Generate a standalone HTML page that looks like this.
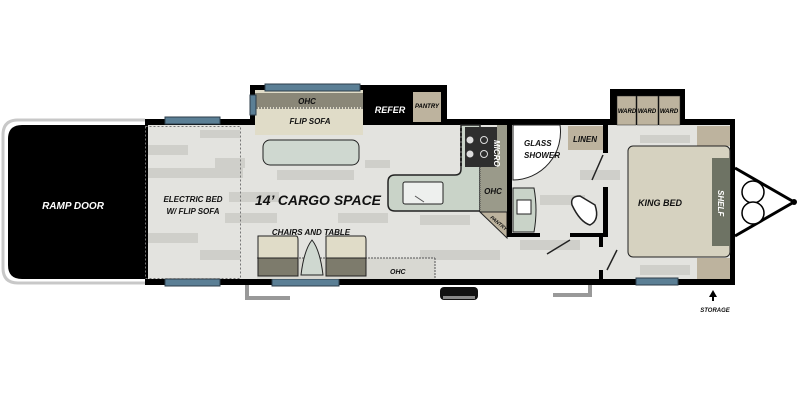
<!DOCTYPE html>
<html><head><meta charset="utf-8"><style>
html,body{margin:0;padding:0;background:#fff;width:800px;height:400px;overflow:hidden}
text{font-family:"Liberation Sans Narrow","Liberation Sans",sans-serif;font-weight:bold;font-style:italic}
</style></head><body>
<svg width="800" height="400" viewBox="0 0 800 400" xmlns="http://www.w3.org/2000/svg">
<path d="M145 120 H18 Q3 120 3 135 V268 Q3 283 18 283 H145" fill="none" stroke="#c8c8c8" stroke-width="3"/>
<path d="M145 125 H22 Q8 125 8 139 V265 Q8 279 22 279 H145 Z" fill="#000"/>
<text x="73" y="209" fill="#fff" font-size="10" text-anchor="middle">RAMP DOOR</text>
<rect x="145" y="119" width="590" height="166" fill="#000"/>
<rect x="250" y="85" width="197" height="45" fill="#000"/>
<rect x="610" y="89" width="75" height="36" fill="#000"/>
<rect x="148" y="125" width="582" height="154" fill="#e3e3df"/>
<g fill="#cfcfca">
<rect x="148" y="145" width="40" height="10"/><rect x="200" y="130" width="40" height="8"/>
<rect x="148" y="168" width="95" height="10"/><rect x="215" y="158" width="30" height="10"/>
<rect x="277" y="170" width="77" height="10"/><rect x="229" y="192" width="50" height="10"/>
<rect x="225" y="213" width="52" height="10"/><rect x="338" y="213" width="50" height="10"/>
<rect x="148" y="233" width="50" height="10"/><rect x="200" y="250" width="40" height="10"/>
<rect x="365" y="160" width="25" height="8"/><rect x="420" y="215" width="50" height="10"/>
<rect x="540" y="195" width="45" height="10"/><rect x="580" y="170" width="40" height="10"/>
<rect x="520" y="240" width="60" height="10"/><rect x="640" y="265" width="50" height="10"/>
<rect x="640" y="135" width="50" height="8"/><rect x="420" y="250" width="80" height="10"/>
</g>
<rect x="255" y="90" width="108" height="45" fill="#e0dcc8"/>
<rect x="255" y="93" width="108" height="14" fill="#8a8778"/>
<line x1="256" y1="108" x2="363" y2="108" stroke="#333" stroke-dasharray="2,1"/>
<text x="307" y="104" font-size="8" text-anchor="middle" fill="#111">OHC</text>
<text x="310" y="124" font-size="8" text-anchor="middle" fill="#111">FLIP SOFA</text>
<text x="390" y="113" fill="#fff" font-size="9" text-anchor="middle">REFER</text>
<rect x="413" y="92" width="28" height="30" fill="#bdb39e"/>
<text x="427" y="108" font-size="6" text-anchor="middle">PANTRY</text>
<g fill="#5b7f95" stroke="#2c3e4a" stroke-width="1">
<rect x="165" y="117" width="55" height="7"/><rect x="165" y="279" width="55" height="7"/>
<rect x="265" y="84" width="95" height="7"/><rect x="250" y="95" width="6" height="20"/>
<rect x="272" y="279" width="67" height="7"/><rect x="636" y="278" width="42" height="7"/>
</g>
<rect x="145.5" y="126.5" width="95" height="152" fill="none" stroke="#777" stroke-dasharray="2,2"/>
<text x="193" y="202" font-size="8" text-anchor="middle" fill="#111">ELECTRIC BED</text>
<text x="193" y="214" font-size="8" text-anchor="middle" fill="#111">W/ FLIP SOFA</text>
<text x="318" y="205" font-size="14" text-anchor="middle" fill="#111">14’ CARGO SPACE</text>
<rect x="263" y="140" width="96" height="25" rx="7" fill="#cfd8d0" stroke="#222"/>
<text x="311" y="235" font-size="8" text-anchor="middle" fill="#111">CHAIRS AND TABLE</text>
<rect x="257" y="258" width="178" height="21" fill="#d8d8d2"/>
<line x1="257" y1="258" x2="435" y2="258" stroke="#555" stroke-dasharray="2,1"/>
<line x1="435" y1="258" x2="435" y2="279" stroke="#555" stroke-dasharray="2,1"/>
<text x="390" y="274" font-size="7" fill="#111">OHC</text>
<path d="M258 236 H296 Q298 236 298 240 V276 H258 Z" fill="#e0dcc8" stroke="#222"/>
<rect x="258" y="258" width="40" height="18" fill="#7d7b6c" stroke="#222"/>
<path d="M326 236 H364 Q366 236 366 240 V276 H326 Z" fill="#e0dcc8" stroke="#222"/>
<rect x="326" y="258" width="40" height="18" fill="#7d7b6c" stroke="#222"/>
<path d="M312 240 Q304 250 301 275 H323 Q320 250 312 240 Z" fill="#cfd8d0" stroke="#222"/>
<!-- kitchen -->
<path d="M395 175 H455 Q461 175 461 169 V125 H480 V211 H395 Q388 211 388 204 V182 Q388 175 395 175 Z" fill="#c9d3c8" stroke="#222" stroke-width="1.5"/>
<line x1="461" y1="128" x2="461" y2="166" stroke="#222" stroke-width="2" stroke-dasharray="3,2"/>
<rect x="403" y="182" width="40" height="22" rx="2" fill="#eef0ee" stroke="#222"/>
<line x1="415" y1="196" x2="424" y2="202" stroke="#555"/>
<rect x="465" y="127" width="32" height="40" fill="#2e2e2e"/>
<circle cx="470" cy="140" r="3.5" fill="#ddd"/><circle cx="470" cy="154" r="3.5" fill="#ddd"/>
<circle cx="484" cy="140" r="3.5" fill="none" stroke="#ddd"/><circle cx="484" cy="154" r="3.5" fill="none" stroke="#ddd"/>
<rect x="497" y="125" width="10" height="42" fill="#9a9a8a"/>
<rect x="480" y="167" width="27" height="45" fill="#9a9a8a"/>
<line x1="480" y1="167" x2="480" y2="212" stroke="#444" stroke-dasharray="1,1"/>
<path d="M480 212 L507 238 V212 Z" fill="#bdb39e" stroke="#222"/>
<text x="494" y="140" font-size="8" transform="rotate(90 494 140)" fill="#fff">MICRO</text>
<text x="493" y="194" font-size="8" text-anchor="middle" fill="#111">OHC</text>
<text x="490" y="218" font-size="5" transform="rotate(40 490 218)" fill="#111">PANTRY</text>
<!-- bathroom -->
<rect x="507" y="125" width="5" height="112" fill="#000"/>
<rect x="507" y="233" width="33" height="4" fill="#000"/>
<path d="M513 125 H560 A48 48 0 0 1 513 180 Z" fill="#fff" stroke="#222"/>
<text x="524" y="146" font-size="8" fill="#111">GLASS</text>
<text x="524" y="158" font-size="8" fill="#111">SHOWER</text>
<rect x="568" y="126" width="35" height="24" fill="#bdb39e"/>
<text x="585" y="142" font-size="8" text-anchor="middle" fill="#111">LINEN</text>
<rect x="603" y="125" width="5" height="28" fill="#000"/>
<rect x="603" y="187" width="5" height="50" fill="#000"/>
<rect x="570" y="233" width="38" height="4" fill="#000"/>
<rect x="599" y="237" width="4" height="10" fill="#000"/>
<rect x="599" y="270" width="4" height="10" fill="#000"/>
<path d="M513 188 H534 Q538 210 534 232 H513 Z" fill="#c9d3c8" stroke="#222"/>
<rect x="517" y="200" width="14" height="14" fill="#fff" stroke="#222"/>
<path d="M572 205 Q570 196 580 196 L595 205 Q600 220 590 225 Q580 222 572 205 Z" fill="#fff" stroke="#222" stroke-width="1.5"/>
<line x1="603" y1="155" x2="592" y2="180" stroke="#222" stroke-width="1.5"/>
<line x1="570" y1="240" x2="547" y2="254" stroke="#222" stroke-width="1.5"/>
<line x1="617" y1="250" x2="607" y2="270" stroke="#222" stroke-width="1.5"/>
<g fill="#bdb39e" stroke="#222" stroke-width="0.5">
<rect x="617" y="96" width="19" height="29"/><rect x="637" y="96" width="21" height="29"/><rect x="659" y="96" width="21" height="29"/>
</g>
<text x="627" y="113" font-size="6" text-anchor="middle">WARD</text>
<text x="647" y="113" font-size="6" text-anchor="middle">WARD</text>
<text x="669" y="113" font-size="6" text-anchor="middle">WARD</text>
<rect x="697" y="126" width="33" height="20" fill="#bdb39e"/>
<rect x="697" y="258" width="33" height="21" fill="#bdb39e"/>
<rect x="628" y="146" width="102" height="111" rx="5" fill="#d6d2c0" stroke="#222"/>
<rect x="712" y="158" width="18" height="88" fill="#6e7364"/>
<text x="660" y="206" font-size="9" text-anchor="middle" fill="#111">KING BED</text>
<text x="718" y="190" font-size="8" transform="rotate(90 718 190)" fill="#fff">SHELF</text>
<path d="M735 168 L794 202 L735 236" fill="none" stroke="#000" stroke-width="3"/>
<circle cx="794" cy="202" r="3" fill="#000"/>
<circle cx="753" cy="192" r="11" fill="#fff" stroke="#000" stroke-width="1.5"/>
<circle cx="753" cy="213" r="11" fill="#fff" stroke="#000" stroke-width="1.5"/>
<rect x="440" y="287" width="38" height="13" rx="4" fill="#111"/>
<rect x="443" y="296" width="32" height="3" fill="#888"/>
<path d="M247 285 V298 H290" fill="none" stroke="#999" stroke-width="4"/>
<path d="M590 285 V295 H553" fill="none" stroke="#999" stroke-width="4"/>
<path d="M713 290 L709 297 H717 Z" fill="#000"/><rect x="712" y="296" width="2" height="5" fill="#000"/>
<text x="715" y="312" font-size="6" text-anchor="middle" fill="#111">STORAGE</text>
</svg>
</body></html>
